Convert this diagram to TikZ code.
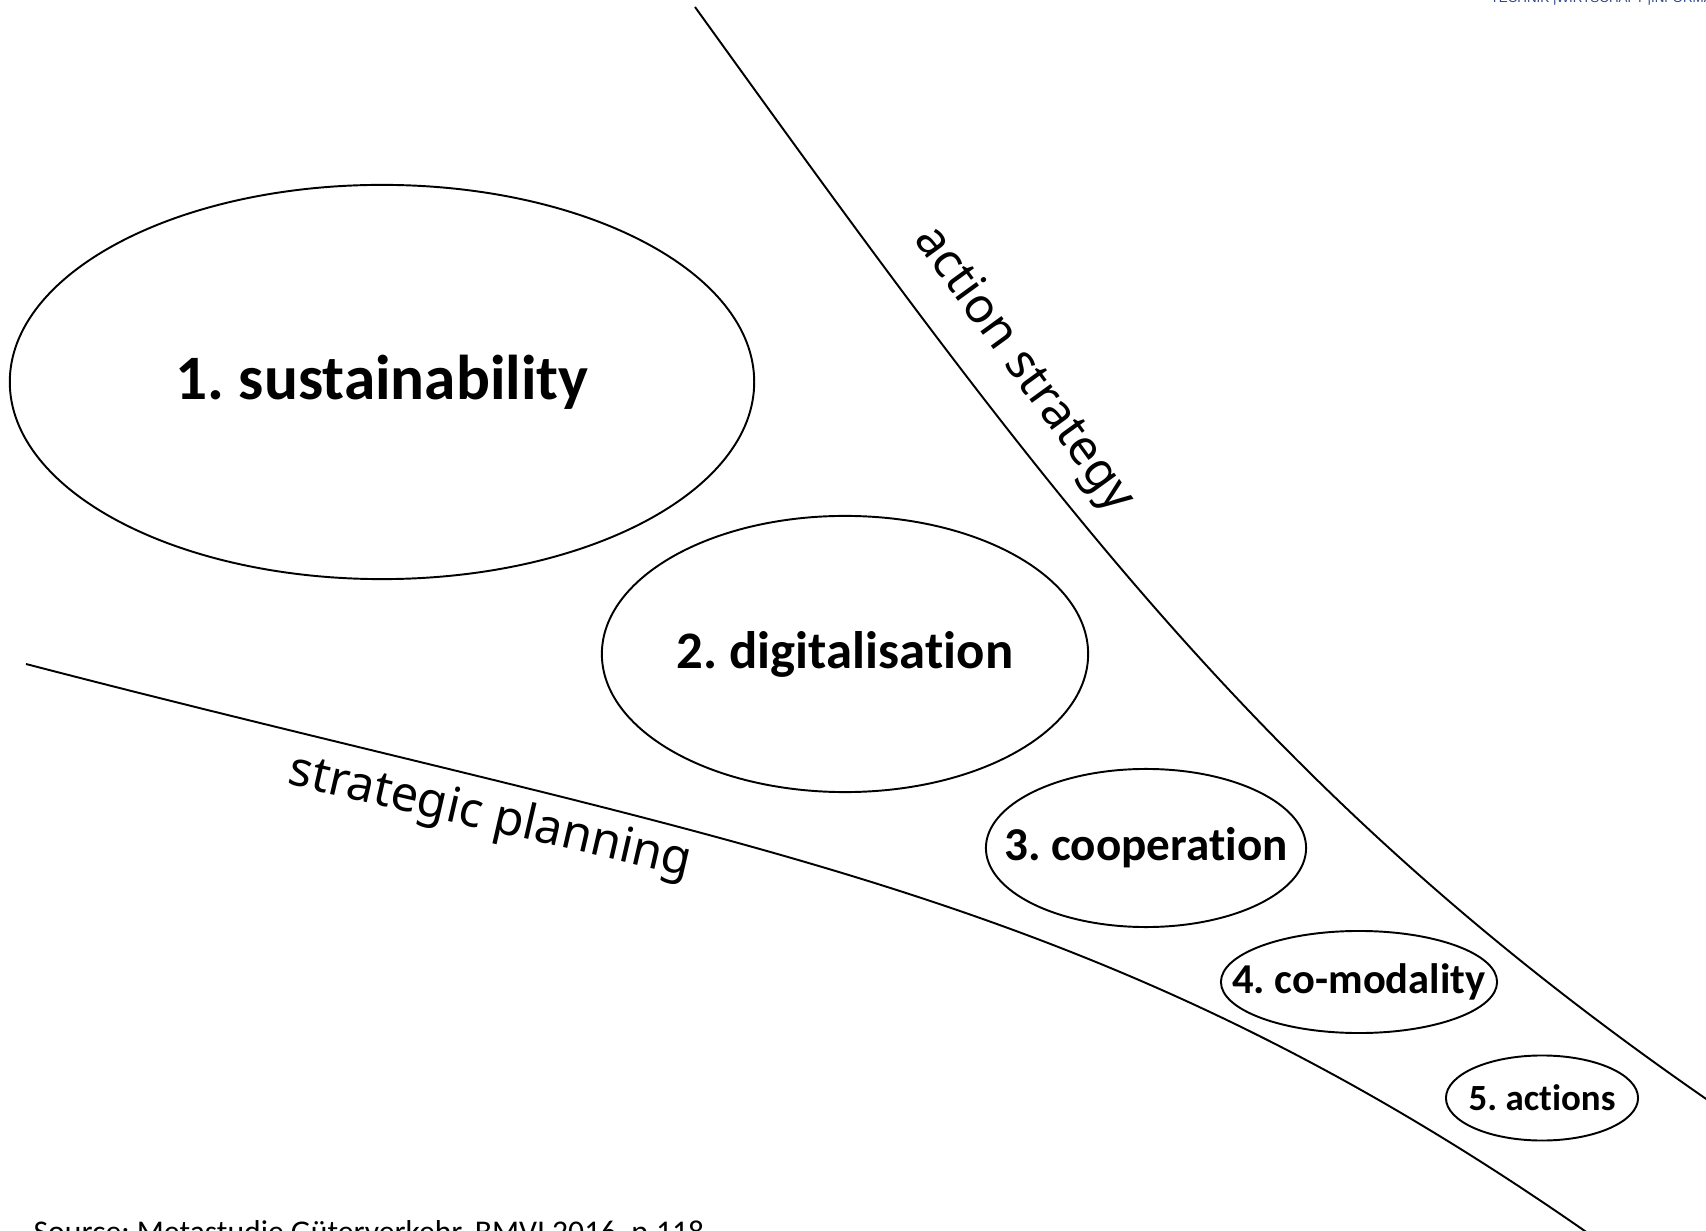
\documentclass[tikz,border=0pt]{standalone}
\usepackage{fontspec}
\setmainfont{Carlito}[Ligatures=CommonOff]
\newfontfamily\labelfont{Noto Sans}
\newfontfamily\headfont{Liberation Sans}
\usetikzlibrary{shapes,positioning}
\definecolor{headblue}{RGB}{47,72,136}
\frenchspacing
\newcommand{\goaltext}[1]{\makebox[0pt]{\raisebox{-1.5pt}{#1}}}
\tikzset{
     goal node/.style={draw, ellipse, line width=0.55pt, inner sep=0pt, font=\bfseries\fontsize{#1}{#1}\selectfont},
      bound line/.style   = {black, line width=0.55pt},
      bound label/.style = {font=\labelfont\fontsize{13.8}{16}\selectfont, inner sep=0pt},
    }

\begin{document}
\begin{tikzpicture}[x=0.01cm, y=-0.01cm]
        \useasboundingbox (0,0) rectangle (1706,1231);
        \clip (0,0) rectangle (1706,1231);
        \node [goal node=18, minimum width=7.44cm, minimum height=3.94cm] (sust) at (382,382) {\goaltext{1. sustainability}};
        \node [goal node=15, minimum width=4.86cm, minimum height=2.76cm] (digi) at (845,654) {\goaltext{2. digitalisation}};
        \node [goal node=13.4, minimum width=3.20cm, minimum height=1.58cm] (coop) at (1146,848) {\goaltext{3. cooperation}};
        \node [goal node=12.1, minimum width=2.76cm, minimum height=1.02cm] (comod) at (1359,982) {\goaltext{4. co-modality}};
        \node [goal node=10.5, minimum width=1.92cm, minimum height=0.85cm] (act) at (1542,1098) {\goaltext{5. actions}};
        \coordinate (as1) at (695,7);
        \coordinate (as2) at (1712,1103);
        \coordinate (sp1) at (26,664);
        \coordinate (sp2) at (1592,1236);
        \draw [bound line] (as1) .. controls (1055,507) and (1270,798) .. (as2);
        \draw [bound line] (sp1) .. controls (726,846) and (1085,881) .. (sp2);
        \node [bound label, rotate=-54] (strat) at (1023,370) {action strategy};
        \node [bound label, rotate=-13] (plan) at (490,818) {strategic planning};
        \node [anchor=base west, inner sep=0pt, font=\fontsize{9}{10}\selectfont] (src) at (33,1242) {Source: Metastudie Güterverkehr, BMVI 2016, p.118};
        \node [anchor=base west, inner sep=0pt, text=headblue, font=\headfont\fontsize{3.8}{4}\selectfont] (head) at (1490,3) {TECHNIK |WIRTSCHAFT |INFORMATIK};
    \end{tikzpicture}
\end{document}
